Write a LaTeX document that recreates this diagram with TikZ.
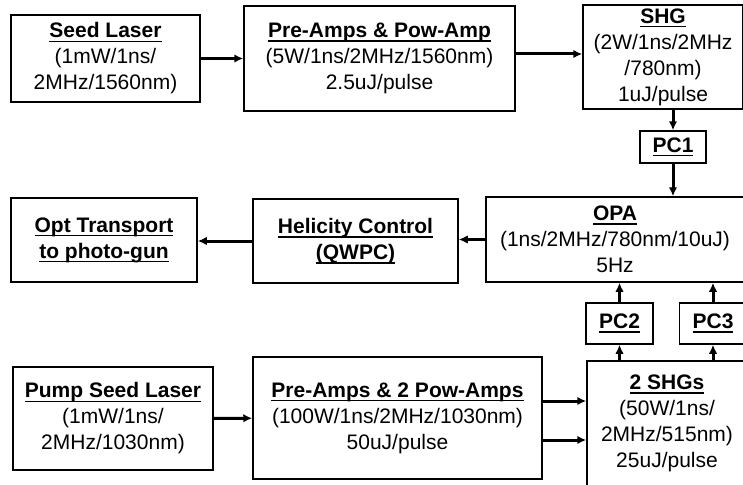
\documentclass[tikz,border=0pt]{standalone}
\usepackage{fontspec}
\setmainfont{Liberation Sans}
\usetikzlibrary{arrows.meta, positioning, calc}
\newcommand{\hd}[1]{{\bfseries\setbox0\hbox{#1}\rlap{\rule[-4.2pt]{\wd0}{1.5pt}}\box0}}

\begin{document}
\begin{tikzpicture}[
    x=1pt, y=-1pt,
    block/.style={rectangle, draw, line width=1.5pt, inner sep=0pt, align=center, font=\fontsize{21}{26}\selectfont},
    pcbox/.style={block, minimum width=67pt, minimum height=41pt},
    arrow/.style={-{Latex[length=9pt,width=8.5pt]}, line width=3pt}
]
\clip (0,0) rectangle (743,484);

% Seed line (top row)
\node[block, minimum width=189pt, minimum height=87pt] (seed) at (105.5,58.5) {\hd{Seed Laser}\\(1mW/1ns/\\2MHz/1560nm)};
\node[block, minimum width=271pt, minimum height=105pt] (preamp) at (379.5,58.5) {\hd{Pre-Amps \& Pow-Amp}\\(5W/1ns/2MHz/1560nm)\\2.5uJ/pulse};
\node[block, minimum width=160pt, minimum height=104pt] (shg) at (663,57) {\hd{SHG}\\(2W/1ns/2MHz\\/780nm)\\1uJ/pulse};
\node[block, minimum width=66pt, minimum height=32pt] (pc1) at (673,147) {\hd{PC1}};

% Middle row
\node[block, minimum width=258pt, minimum height=85pt] (opa) at (615,239.5) {\hd{OPA}\\(1ns/2MHz/780nm/10uJ)\\5Hz};
\node[block, minimum width=205pt, minimum height=84pt] (helicity) at (355.5,241) {\hd{Helicity Control}\\\hd{(QWPC)}};
\node[block, minimum width=186pt, minimum height=84pt] (transport) at (104,240) {\hd{Opt Transport}\\\hd{to photo-gun}};

% Pump line (bottom row)
\node[pcbox] (pc2) at (619.5,323.5) {\hd{PC2}};
\node[pcbox] (pc3) at (713,323.5) {\hd{PC3}};
\node[block, minimum width=200pt, minimum height=103pt] (pump) at (113,418.5) {\hd{Pump Seed Laser}\\(1mW/1ns/\\2MHz/1030nm)};
\node[block, minimum width=289pt, minimum height=122pt] (preamp2) at (397.5,418) {\hd{Pre-Amps \& 2 Pow-Amps}\\(100W/1ns/2MHz/1030nm)\\50uJ/pulse};
\node[block, minimum width=160pt, minimum height=125pt] (shgs) at (667,423.5) {\hd{2 SHGs}\\(50W/1ns/\\2MHz/515nm)\\25uJ/pulse};

% Arrows
\draw[arrow] (seed) -- (preamp);
\draw[arrow] ([yshift=4.5pt]preamp.east) -- ([yshift=4.5pt]preamp.east -| shg.west);
\draw[arrow] (shg.south -| pc1) -- (pc1);
\draw[arrow] (pc1) -- (pc1 |- opa.north);
\draw[arrow] (opa.west) -- (opa.west -| helicity.east);
\draw[arrow] (helicity.west) -- (helicity.west -| transport.east);
\draw[arrow] (pc2) -- (pc2 |- opa.south);
\draw[arrow] (pc3) -- (pc3 |- opa.south);
\draw[arrow] (shgs.north -| pc2) -- (pc2);
\draw[arrow] (shgs.north -| pc3) -- (pc3);
\draw[arrow] (pump) -- (preamp2);
\draw[arrow] ([yshift=17pt]preamp2.east) -- ([yshift=17pt]preamp2.east -| shgs.west);
\draw[arrow] ([yshift=-22pt]preamp2.east) -- ([yshift=-22pt]preamp2.east -| shgs.west);

\end{tikzpicture}
\end{document}
